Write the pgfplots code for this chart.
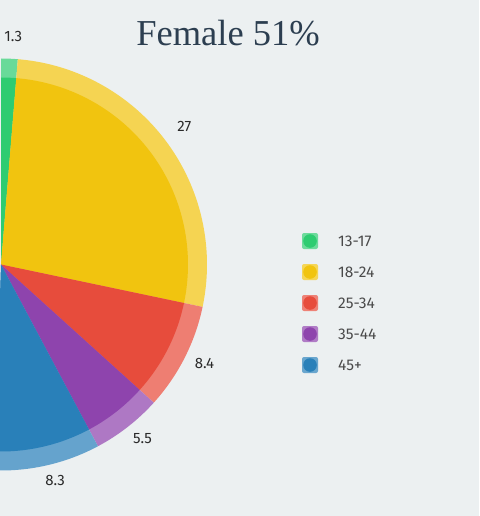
\documentclass[border=0pt]{standalone}
\usepackage{fontspec}
\setmainfont{Fira Sans}
\newfontfamily\titlefont{Liberation Serif}
\usepackage{pgfplots}
\usepackage{pgfplotstable}
\pgfplotsset{compat=1.18}
\definecolor{bg}{HTML}{ECF0F1}
\definecolor{c0}{HTML}{2ECC71}
\definecolor{c1}{HTML}{F1C40F}
\definecolor{c2}{HTML}{E74C3C}
\definecolor{c3}{HTML}{8E44AD}
\definecolor{c4}{HTML}{2980B9}
\definecolor{titlec}{HTML}{2C3E50}
\definecolor{labc}{HTML}{2A2A2A}
\definecolor{legc}{HTML}{4A4A4A}

\pgfplotstableread{
label value
13-17 1.3
18-24 27
25-34 8.4
35-44 5.5
45+ 8.3
}\piedata

\begin{document}
\begin{tikzpicture}
\def\cum{90}
\pgfplotsforeachungrouped \i in {0,...,4}{%
  \pgfplotstablegetelem{\i}{value}\of\piedata
  \expandafter\xdef\csname vl\i\endcsname{\pgfplotsretval}%
  \pgfmathsetmacro\endang{\cum-\pgfplotsretval*3.6}%
  \pgfmathsetmacro\midang{(\cum+\endang)/2}%
  \expandafter\xdef\csname st\i\endcsname{\cum}%
  \expandafter\xdef\csname en\i\endcsname{\endang}%
  \expandafter\xdef\csname md\i\endcsname{\midang}%
  \pgfplotstablegetelem{\i}{label}\of\piedata
  \expandafter\xdef\csname lb\i\endcsname{\pgfplotsretval}%
  \global\let\cum\endang
}
\begin{axis}[
  width=479pt, height=516pt, scale only axis,
  xmin=0, xmax=479, ymin=0, ymax=516, y dir=reverse,
  axis lines=none, ticks=none,
  axis background/.style={fill=bg},
  clip=true,
]
% outer light ring
\pgfplotsinvokeforeach{0,...,4}{
  \fill[c#1!72!white] (axis cs:1,264.5) -- ++(\csname st#1\endcsname:206pt)
     arc[start angle=\csname st#1\endcsname, end angle=\csname en#1\endcsname, radius=206pt] -- cycle;
}
% inner slices
\pgfplotsinvokeforeach{0,...,4}{
  \fill[c#1] (axis cs:1,264.5) -- ++(\csname st#1\endcsname:187pt)
     arc[start angle=\csname st#1\endcsname, end angle=\csname en#1\endcsname, radius=187pt] -- cycle;
}
% data labels
\pgfplotsinvokeforeach{0,...,4}{
  \path (axis cs:4,261) ++(\csname md#1\endcsname:225pt)
     node[font=\fontsize{15}{17}\selectfont, text=labc] {\csname vl#1\endcsname};
}
% legend
\pgfplotsinvokeforeach{0,...,4}{
  \fill[c#1!70!white, rounded corners=2pt] (axis cs:302,{249+31*#1}) rectangle ++(16pt,16pt);
  \fill[c#1] (axis cs:310,{241+31*#1}) circle[radius=6.8pt];
  \node[anchor=west, font=\fontsize{15.5}{17}\selectfont, text=legc, inner sep=0pt] at (axis cs:338,{241+31*#1}) {\csname lb#1\endcsname};
}
\node[font=\titlefont\fontsize{36.5}{40}\selectfont, text=titlec] at (axis cs:228,33) {Female 51\%};
\end{axis}
\pgfresetboundingbox
\useasboundingbox (current axis.south west) rectangle (current axis.north east);
\end{tikzpicture}
\end{document}
